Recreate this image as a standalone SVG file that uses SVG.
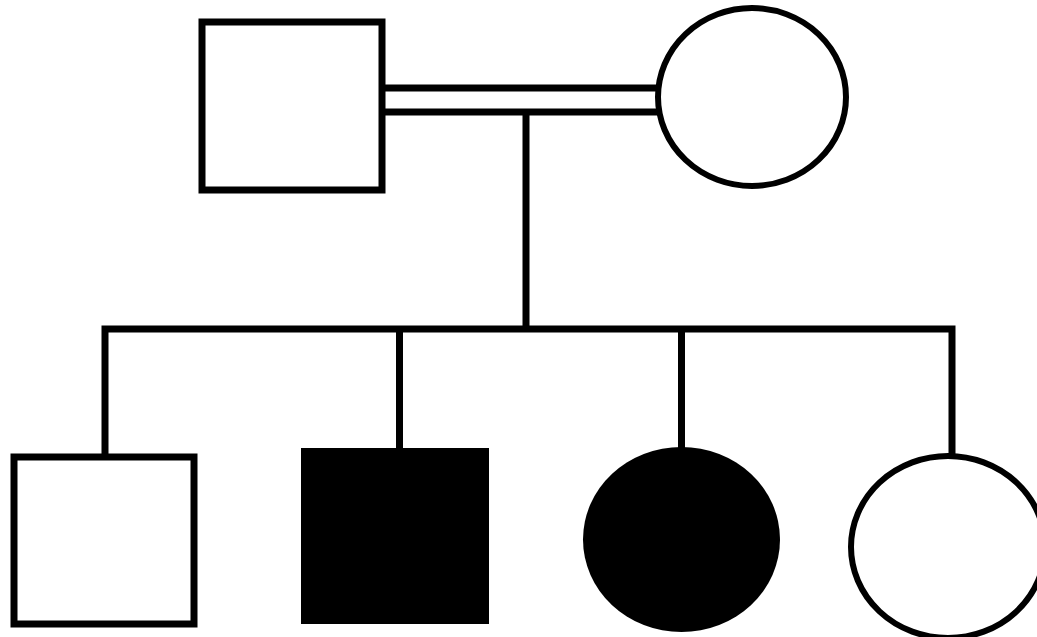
<svg xmlns="http://www.w3.org/2000/svg" width="1037" height="637" viewBox="0 0 1037 637">
<style>
.sq{fill:#fff;stroke:#000;stroke-width:7}
.ci{fill:#fff;stroke:#000;stroke-width:6}
.aff{fill:#000;stroke:none}
.ln{stroke:#000;stroke-width:7;fill:none}
</style>
<rect width="1037" height="637" fill="#fff"/>
<g id="connectors">
<line class="ln" x1="382" y1="88" x2="658" y2="88"/>
<line class="ln" x1="382" y1="112" x2="658" y2="112"/>
<line class="ln" x1="526" y1="112" x2="526" y2="329"/>
<polyline class="ln" points="105,457 105,329 952,329 952,456"/>
<line class="ln" x1="399.5" y1="329" x2="399.5" y2="448"/>
<line class="ln" x1="681.5" y1="329" x2="681.5" y2="448"/>
</g>
<g id="father"><rect class="sq" x="202" y="22" width="180" height="168"/></g>
<g id="mother"><ellipse class="ci" cx="752" cy="97" rx="94" ry="89"/></g>
<g id="son1"><rect class="sq" x="14" y="457" width="180" height="167"/></g>
<g id="son2"><rect class="aff" x="301" y="448" width="188" height="176"/></g>
<g id="daughter1"><ellipse class="aff" cx="681.5" cy="539.5" rx="98.5" ry="92.5"/></g>
<g id="daughter2"><ellipse class="ci" cx="948" cy="547" rx="97" ry="91"/></g>
</svg>
